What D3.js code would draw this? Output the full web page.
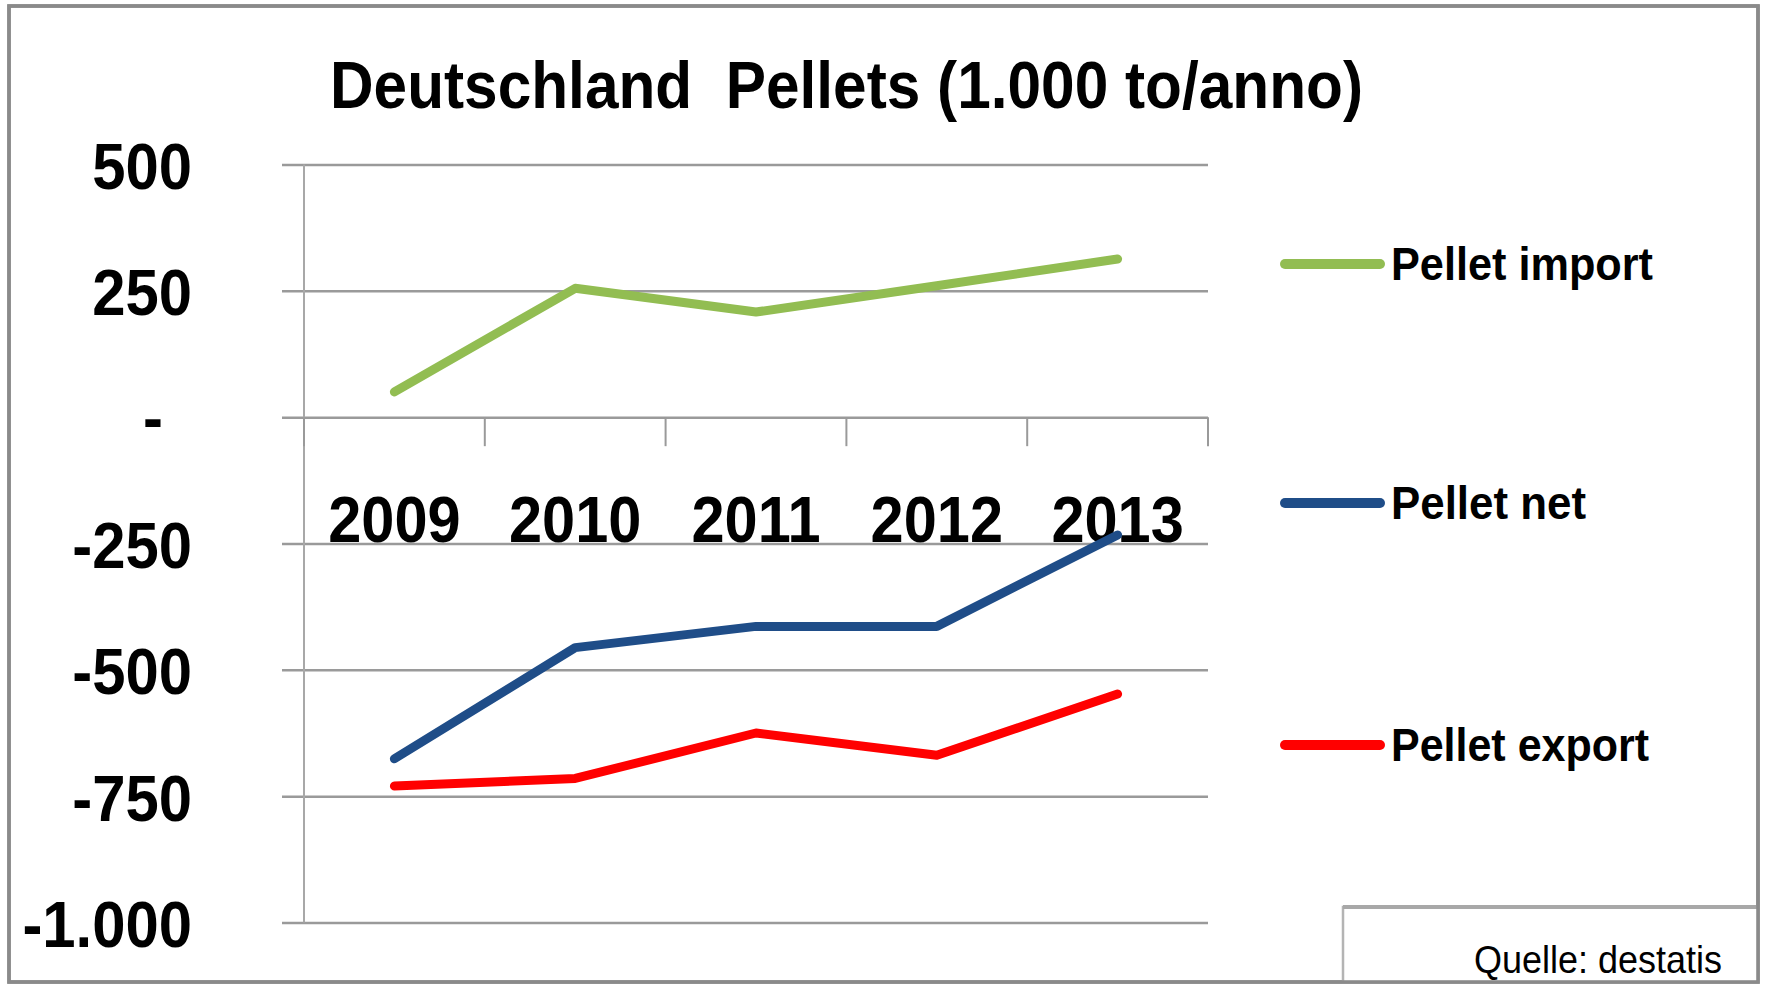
<!DOCTYPE html>
<html>
<head>
<meta charset="utf-8">
<script src="https://cdn.jsdelivr.net/npm/d3@7"></script>
<style>
  html, body { margin: 0; padding: 0; background: #fff; }
  svg { display: block; }
  text { font-family: "Liberation Sans", Arial, sans-serif; }
</style>
</head>
<body>
<svg id="chart" width="1765" height="984"></svg>
<script>
// ---------- data ----------
const categories = ["2009", "2010", "2011", "2012", "2013"];
const importValues = [50, 255, 208, 260, 313];
const netValues = [-676, -456, -414, -414, -233];
const exportValues = [-730, -715, -625, -669, -548];
const seriesNames = ["Pellet import", "Pellet net", "Pellet export"];
const seriesColors = ["#92BD52", "#1F4D88", "#FF0000"];
const yTicks = [500, 250, 0, -250, -500, -750, -1000];
const yTickLabels = ["500", "250", "-", "-250", "-500", "-750", "-1.000"];
const titleText = "Deutschland  Pellets (1.000 to/anno)";
const sourceText = "Quelle: destatis";

// ---------- layout ----------
const svg = d3.select("#chart");
const plot = { left: 304, right: 1208, top: 164.5, bottom: 922.5 };

const x = d3.scaleBand().domain(categories).range([plot.left, plot.right]).padding(0);
const y = d3.scaleLinear().domain([-1000, 500]).range([plot.bottom, plot.top]);
const cx = c => x(c) + x.bandwidth() / 2;

// outer frame background
svg.append("rect")
  .attr("x", 9).attr("y", 6).attr("width", 1749).attr("height", 976)
  .attr("fill", "#fff").attr("stroke", "#8a8a8a").attr("stroke-width", 3.5);

// title
svg.append("text")
  .attr("x", 330).attr("y", 108)
  .attr("font-size", 66).attr("font-weight", "bold")
  .attr("fill", "#000")
  .style("white-space", "pre")
  .attr("textLength", 1033).attr("lengthAdjust", "spacingAndGlyphs")
  .text(titleText);

// horizontal gridlines + y labels via axis
const yAxis = d3.axisLeft(y)
  .tickValues(yTicks)
  .tickSize(-(plot.right - 282))
  .tickPadding(0)
  .tickFormat(d => yTickLabels[yTicks.indexOf(d)]);

const yG = svg.append("g")
  .attr("transform", "translate(282,0)")
  .call(yAxis);
yG.select(".domain").remove();
yG.selectAll(".tick line").attr("stroke", "#9a9a9a").attr("stroke-width", 2.5);
yG.selectAll(".tick text")
  .attr("x", -90)
  .attr("dy", null)
  .attr("y", 24)
  .attr("font-size", 65).attr("font-weight", "bold")
  .attr("fill", "#000")
  .attr("font-family", "Liberation Sans, Arial, sans-serif")
  .attr("text-anchor", "end")
  .each(function(d) {
    const t = d3.select(this);
    if (d === 0) { t.attr("x", -119).attr("y", 22); }
    const len = this.getComputedTextLength();
    t.attr("textLength", len * 0.92).attr("lengthAdjust", "spacingAndGlyphs");
  });

// vertical y axis line
svg.append("line")
  .attr("x1", plot.left).attr("x2", plot.left)
  .attr("y1", y(500)).attr("y2", y(-1000))
  .attr("stroke", "#a8a8a8").attr("stroke-width", 2);

// category boundary tick marks below zero line
const boundaries = categories.map(c => x(c)).concat([x(categories[categories.length - 1]) + x.bandwidth()]);
svg.append("g").selectAll("line")
  .data(boundaries)
  .join("line")
  .attr("x1", d => d).attr("x2", d => d)
  .attr("y1", y(0)).attr("y2", y(0) + 29)
  .attr("stroke", "#9a9a9a").attr("stroke-width", 2);

// x axis labels via axis
const xAxis = d3.axisBottom(x).tickSize(0).tickPadding(0);
const xG = svg.append("g").attr("transform", `translate(0,${y(0)})`).call(xAxis);
xG.select(".domain").remove();
xG.selectAll(".tick text")
  .attr("dy", null)
  .attr("y", 125)
  .attr("font-size", 64).attr("font-weight", "bold")
  .attr("fill", "#000")
  .attr("font-family", "Liberation Sans, Arial, sans-serif")
  .each(function() {
    const len = this.getComputedTextLength();
    d3.select(this).attr("textLength", len * 0.93).attr("lengthAdjust", "spacingAndGlyphs");
  });

// lines
const allSeries = [importValues, netValues, exportValues];
const lineGen = d3.line()
  .x((d, i) => cx(categories[i]))
  .y(d => y(d));

svg.append("g").selectAll("path")
  .data(allSeries)
  .join("path")
  .attr("d", d => lineGen(d))
  .attr("fill", "none")
  .attr("stroke", (d, i) => seriesColors[i])
  .attr("stroke-width", 9)
  .attr("stroke-linejoin", "round")
  .attr("stroke-linecap", "round");

// legend
const legendY = [264, 503, 745];
const legendW = [262, 195, 258];
const lg = svg.append("g").selectAll("g")
  .data(seriesNames)
  .join("g")
  .attr("transform", (d, i) => `translate(0,${legendY[i]})`);
lg.append("line")
  .attr("x1", 1285).attr("x2", 1380).attr("y1", 0).attr("y2", 0)
  .attr("stroke", (d, i) => seriesColors[i])
  .attr("stroke-width", 10).attr("stroke-linecap", "round");
lg.append("text")
  .attr("x", 1391).attr("y", 15.5)
  .attr("font-size", 46).attr("font-weight", "bold")
  .attr("fill", "#000")
  .attr("textLength", (d, i) => legendW[i]).attr("lengthAdjust", "spacingAndGlyphs")
  .text(d => d);

// source box
svg.append("rect")
  .attr("x", 1343).attr("y", 907).attr("width", 415).attr("height", 75)
  .attr("fill", "#fff").attr("stroke", "#b4b4b4").attr("stroke-width", 2.5);
svg.append("line")
  .attr("x1", 1343).attr("x2", 1758).attr("y1", 907).attr("y2", 907)
  .attr("stroke", "#a8a8a8").attr("stroke-width", 4);
svg.append("text")
  .attr("x", 1474).attr("y", 973)
  .attr("font-size", 39)
  .attr("fill", "#000")
  .attr("textLength", 248).attr("lengthAdjust", "spacingAndGlyphs")
  .text(sourceText);

// outer frame border on top
svg.append("rect")
  .attr("x", 9).attr("y", 6).attr("width", 1749).attr("height", 976)
  .attr("fill", "none").attr("stroke", "#8a8a8a").attr("stroke-width", 3.5);
</script>
</body>
</html>
